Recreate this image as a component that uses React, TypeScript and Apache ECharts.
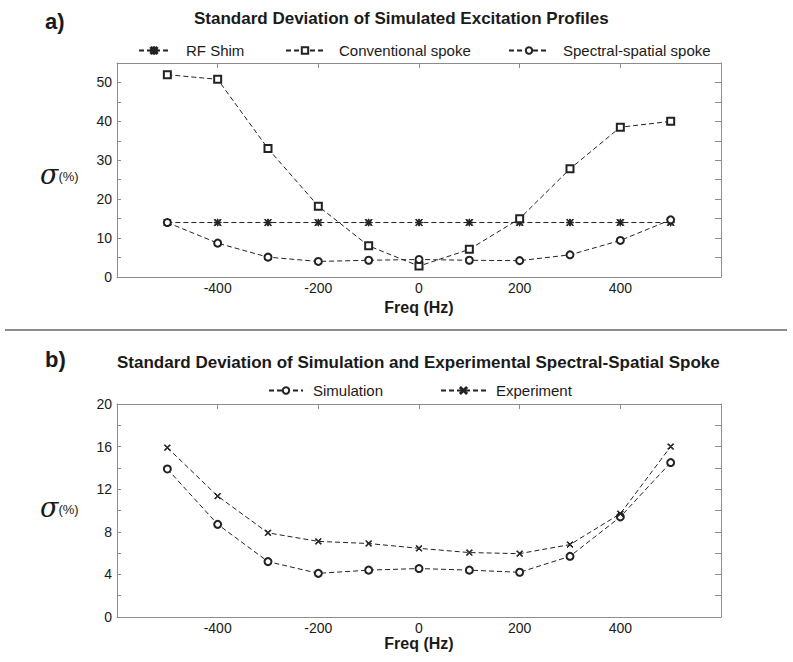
import React, { useEffect, useRef } from "react";
import * as echarts from "echarts";

const freq = [-500, -400, -300, -200, -100, 0, 100, 200, 300, 400, 500];
const rfShim = [14, 14, 14, 14, 14, 14, 14, 14, 14, 14, 14];
const conventional = [52.0, 50.8, 33.0, 18.2, 8.0, 2.8, 7.1, 15.0, 27.8, 38.5, 40.0];
const spectralSpatial = [14.0, 8.7, 5.1, 4.0, 4.3, 4.5, 4.3, 4.2, 5.7, 9.4, 14.7];
const simulation = [13.9, 8.7, 5.2, 4.1, 4.4, 4.55, 4.4, 4.2, 5.7, 9.4, 14.5];
const experiment = [15.9, 11.35, 7.9, 7.1, 6.9, 6.45, 6.05, 5.95, 6.8, 9.7, 16.0];

const titleA = "Standard Deviation of Simulated Excitation Profiles";
const titleB = "Standard Deviation of Simulation and Experimental Spectral-Spatial Spoke";

const FONT = "Liberation Sans, Arial, Helvetica, sans-serif";
const INK = "#1a1a1a";
const FRAME = "#8c8c8c";

const STAR =
  "path://M4.5,0 H5.5 V10 H4.5 Z M0,4.5 H10 V5.5 H0 Z M0,1 L1,0 L5,4 L9,0 L10,1 L6,5 L10,9 L9,10 L5,6 L1,10 L0,9 L4,5 Z";
const CROSS = "path://M0,1 L1,0 L5,4 L9,0 L10,1 L6,5 L10,9 L9,10 L5,6 L1,10 L0,9 L4,5 Z";

const pairs = (ys: number[]) => freq.map((f, i) => [f, ys[i]]);

function xAxes(grid: number, nameGap: number) {
  return [
    {
      type: "value",
      gridIndex: grid,
      position: "bottom",
      min: -600,
      max: 600,
      interval: 200,
      axisLine: { show: true, onZero: false, lineStyle: { color: FRAME, width: 1 } },
      axisTick: { show: false },
      splitLine: { show: false },
      axisLabel: {
        formatter: (v: number) => (Math.abs(v) === 600 ? "" : String(v)),
        fontSize: 14,
        color: INK,
        fontFamily: FONT,
        margin: 4,
      },
      name: "Freq (Hz)",
      nameLocation: "middle",
      nameGap,
      nameTextStyle: { fontWeight: "bold", fontSize: 16, color: INK, fontFamily: FONT },
    },
    {
      type: "value",
      gridIndex: grid,
      position: "top",
      min: -600,
      max: 600,
      interval: 200,
      axisLine: { show: true, onZero: false, lineStyle: { color: FRAME, width: 1 } },
      axisTick: { show: true, inside: true, length: 5, lineStyle: { color: FRAME } },
      splitLine: { show: false },
      axisLabel: { show: false },
    },
  ];
}

function yAxes(grid: number, max: number, interval: number, labelEvery: number) {
  return [
    {
      type: "value",
      gridIndex: grid,
      position: "left",
      min: 0,
      max,
      interval,
      axisLine: { show: true, onZero: false, lineStyle: { color: FRAME, width: 1 } },
      axisTick: { show: true, inside: true, length: 4, lineStyle: { color: FRAME } },
      splitLine: { show: false },
      axisLabel: {
        formatter: (v: number) => (Math.round(v) % labelEvery === 0 ? String(v) : ""),
        fontSize: 14,
        color: INK,
        fontFamily: FONT,
        margin: 5,
      },
    },
    {
      type: "value",
      gridIndex: grid,
      position: "right",
      min: 0,
      max,
      interval,
      axisLine: { show: true, onZero: false, lineStyle: { color: FRAME, width: 1 } },
      axisTick: { show: true, inside: true, length: 6, lineStyle: { color: FRAME } },
      splitLine: { show: false },
      axisLabel: { show: false },
    },
  ];
}

function lineSeries(name: string, ys: number[], xi: number, yi: number, symbol: string, size: number) {
  return {
    type: "line",
    name,
    xAxisIndex: xi,
    yAxisIndex: yi,
    data: pairs(ys),
    symbol,
    symbolSize: size,
    showAllSymbol: true,
    lineStyle: { color: "#222", width: 1, type: [5, 3] },
    itemStyle: { color: "#222", borderColor: "#222", borderWidth: 1 },
    emphasis: { disabled: true },
    z: 3,
  };
}

function legend(name: string, left: number, top: number, width: number, textGap: number) {
  return {
    data: [name],
    left,
    top,
    padding: 0,
    itemWidth: width,
    itemHeight: 8,
    selectedMode: false,
    textStyle: {
      fontSize: 15,
      color: INK,
      fontFamily: FONT,
      padding: [0, 0, 0, textGap],
    },
  };
}

function sigma(y: number) {
  return {
    type: "text",
    x: 40,
    y,
    style: {
      text: "{s|σ}{p|(%)}",
      verticalAlign: "middle",
      rich: {
        s: { fontSize: 27, fontStyle: "italic", fontFamily: "DejaVu Serif, serif", fill: INK, lineHeight: 30, verticalAlign: "middle" },
        p: { fontSize: 13, fontFamily: FONT, fill: INK, lineHeight: 30, verticalAlign: "middle", padding: [4, 0, 0, 0] },
      },
    },
  };
}

function boldText(text: string, x: number, y: number, size: number) {
  return {
    type: "text",
    x,
    y,
    style: {
      text,
      verticalAlign: "middle",
      fontSize: size,
      fontWeight: "bold",
      fontFamily: FONT,
      fill: INK,
    },
  };
}

export default function App() {
  const ref = useRef<HTMLDivElement>(null);
  useEffect(() => {
    if (!ref.current) return;
    const chart = echarts.init(ref.current, null, { renderer: "svg" });
    chart.setOption({
      animation: false,
      backgroundColor: "#ffffff",
      grid: [
        { left: 117, top: 63, width: 604, height: 214 },
        { left: 117, top: 404, width: 604, height: 213 },
      ],
      xAxis: [...xAxes(0, 22), ...xAxes(1, 18)],
      yAxis: [...yAxes(0, 55, 5, 10), ...yAxes(1, 20, 2, 4)],
      legend: [
        legend("RF Shim", 138, 43, 30, 12),
        legend("Conventional spoke", 285, 43, 38, 10),
        legend("Spectral-spatial spoke", 508, 43, 40, 9),
        legend("Simulation", 268, 383, 34, 5),
        legend("Experiment", 440, 383, 45, 5),
      ],
      series: [
        lineSeries("RF Shim", rfShim, 0, 0, STAR, 7),
        lineSeries("Conventional spoke", conventional, 0, 0, "emptyRect", 7),
        lineSeries("Spectral-spatial spoke", spectralSpatial, 0, 0, "emptyCircle", 7),
        lineSeries("Simulation", simulation, 2, 2, "emptyCircle", 7),
        lineSeries("Experiment", experiment, 2, 2, CROSS, 6),
      ],
      graphic: [
        boldText("a)", 45, 21, 22),
        boldText(titleA, 194, 18, 17),
        boldText("b)", 45, 359, 22),
        boldText(titleB, 117, 362, 17),
        sigma(174),
        sigma(507),
        {
          type: "line",
          shape: { x1: 5, y1: 330, x2: 787, y2: 330 },
          style: { stroke: "#666", lineWidth: 1.5 },
        },
      ],
    });
    return () => chart.dispose();
  }, []);
  return (
    <div
      ref={ref}
      style={{ position: "absolute", left: 0, top: 0, width: 793, height: 662, background: "#fff" }}
    />
  );
}
